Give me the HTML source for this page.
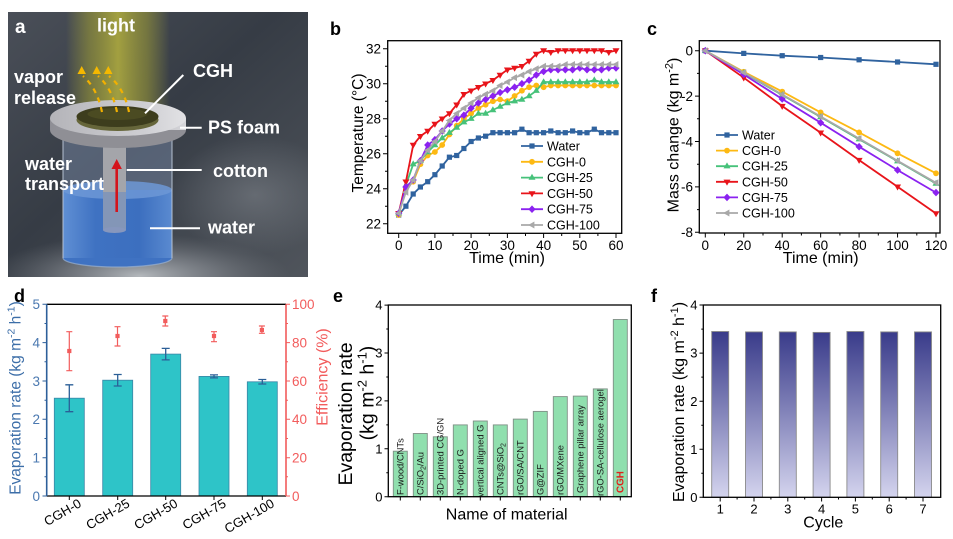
<!DOCTYPE html>
<html><head><meta charset="utf-8"><style>
html,body{margin:0;padding:0;background:#fff;}
svg{display:block;font-family:"Liberation Sans",Arial,sans-serif;}
</style></head><body>
<svg width="953" height="539" viewBox="0 0 953 539" xmlns="http://www.w3.org/2000/svg">
<defs>
<clipPath id="ca"><rect x="8" y="12" width="300" height="265"/></clipPath>
<linearGradient id="abg" x1="0" y1="0" x2="1" y2="1">
<stop offset="0" stop-color="#4a4f58"/><stop offset="0.45" stop-color="#363c45"/><stop offset="1" stop-color="#50555c"/>
</linearGradient>
<radialGradient id="aglow" cx="0.5" cy="0.5" r="0.5">
<stop offset="0" stop-color="#c0c4c8" stop-opacity="0.9"/><stop offset="0.5" stop-color="#9a9ea4" stop-opacity="0.5"/><stop offset="1" stop-color="#7a7e84" stop-opacity="0"/>
</radialGradient>
<radialGradient id="aglow2" cx="0.5" cy="0.5" r="0.5">
<stop offset="0" stop-color="#80858c" stop-opacity="0.55"/><stop offset="1" stop-color="#80858c" stop-opacity="0"/>
</radialGradient>
<linearGradient id="beam" x1="0" y1="0" x2="1" y2="0">
<stop offset="0" stop-color="#a8a638" stop-opacity="0"/><stop offset="0.22" stop-color="#a09e36" stop-opacity="0.55"/><stop offset="0.5" stop-color="#b4b03e" stop-opacity="0.85"/><stop offset="0.78" stop-color="#a09e36" stop-opacity="0.55"/><stop offset="1" stop-color="#a8a638" stop-opacity="0"/>
</linearGradient>
<linearGradient id="waterG" x1="0" y1="0" x2="1" y2="0">
<stop offset="0" stop-color="#5f8fd4"/><stop offset="0.3" stop-color="#3f72c2"/><stop offset="0.7" stop-color="#3c6fbf"/><stop offset="1" stop-color="#5a8ad0"/>
</linearGradient>
<linearGradient id="foamTop" x1="0" y1="0" x2="1" y2="0">
<stop offset="0" stop-color="#b4b4b9"/><stop offset="0.7" stop-color="#cfcfd3"/><stop offset="1" stop-color="#e2e2e5"/>
</linearGradient>
<linearGradient id="foamSide" x1="0" y1="0" x2="1" y2="0">
<stop offset="0" stop-color="#8e8e95"/><stop offset="0.6" stop-color="#b0b0b6"/><stop offset="1" stop-color="#d6d6da"/>
</linearGradient>
<linearGradient id="fbar" x1="0" y1="0" x2="0" y2="1">
<stop offset="0" stop-color="#393b8a"/><stop offset="0.5" stop-color="#8586bb"/><stop offset="1" stop-color="#d4d4ee"/>
</linearGradient>
<marker id="mSq" markerWidth="8" markerHeight="8" refX="4" refY="4" markerUnits="userSpaceOnUse"><rect x="1.4" y="1.4" width="5.2" height="5.2" fill="#30639f"/></marker>
<marker id="mCi" markerWidth="8" markerHeight="8" refX="4" refY="4" markerUnits="userSpaceOnUse"><circle cx="4" cy="4" r="2.9" fill="#fdb913"/></marker>
<marker id="mTu" markerWidth="8" markerHeight="8" refX="4" refY="4.4" markerUnits="userSpaceOnUse"><polygon points="4,0.6 7.5,6.6 0.5,6.6" fill="#46c27a"/></marker>
<marker id="mTd" markerWidth="8" markerHeight="8" refX="4" refY="3.6" markerUnits="userSpaceOnUse"><polygon points="0.5,1.4 7.5,1.4 4,7.4" fill="#e8141a"/></marker>
<marker id="mDi" markerWidth="8" markerHeight="8" refX="4" refY="4" markerUnits="userSpaceOnUse"><polygon points="4,0.2 7.6,4 4,7.8 0.4,4" fill="#8b22f0"/></marker>
<marker id="mTl" markerWidth="8" markerHeight="8" refX="4.4" refY="4" markerUnits="userSpaceOnUse"><polygon points="0.6,4 6.8,0.5 6.8,7.5" fill="#a8a8a8"/></marker>
</defs>

<rect width="953" height="539" fill="#fff"/>

<!-- ============ PANEL A ============ -->
<g clip-path="url(#ca)">
<rect x="8" y="12" width="300" height="265" fill="url(#abg)"/>
<ellipse cx="255" cy="195" rx="85" ry="60" fill="url(#aglow2)"/>
<ellipse cx="140" cy="276" rx="150" ry="42" fill="url(#aglow)"/>
<rect x="66" y="12" width="104" height="110" fill="url(#beam)"/>
<!-- beaker -->
<rect x="63" y="140" width="109" height="118" fill="#7c8fae" opacity="0.45"/>
<ellipse cx="117.5" cy="258" rx="54.5" ry="9" fill="#3f72c2"/>
<rect x="63" y="190" width="109" height="68" fill="url(#waterG)"/>
<ellipse cx="117.5" cy="190" rx="54.5" ry="9" fill="#6d98d6" opacity="0.85"/>
<!-- cotton -->
<rect x="103" y="140" width="23" height="90" fill="#a4a5aa"/>
<rect x="103" y="192" width="23" height="38" fill="#5a84c8" opacity="0.45"/>
<ellipse cx="114.5" cy="230" rx="11.5" ry="3" fill="#8797bd"/>
<line x1="63" y1="140" x2="63" y2="258" stroke="#b8c4d4" stroke-width="1.4" opacity="0.7"/>
<line x1="172" y1="140" x2="172" y2="258" stroke="#b8c4d4" stroke-width="1.4" opacity="0.7"/>
<path d="M63,258 A54.5,9 0 0 0 172,258" fill="none" stroke="#9ab0d0" stroke-width="1.2" opacity="0.7"/>
<!-- red arrow -->
<line x1="116.7" y1="212" x2="116.7" y2="167" stroke="#d4141c" stroke-width="2.6"/>
<polygon points="111.5,169 121.9,169 116.7,159" fill="#d4141c"/>
<!-- foam -->
<ellipse cx="118" cy="130" rx="68" ry="18" fill="#8f8f95"/>
<rect x="50" y="118" width="136" height="12" fill="url(#foamSide)"/>
<ellipse cx="118" cy="118" rx="68" ry="18" fill="url(#foamTop)"/>
<!-- CGH disk -->
<ellipse cx="117.5" cy="120" rx="41" ry="11" fill="#66663a"/>
<ellipse cx="117.5" cy="116.5" rx="41" ry="10.5" fill="#3d3d1d"/>
<ellipse cx="117.5" cy="114" rx="30" ry="6" fill="#5a5a28" opacity="0.5"/>
<!-- vapor arrows -->
<g fill="none" stroke="#f2b000" stroke-width="2.2" stroke-dasharray="5 5">
<path d="M102,112 Q97,88 83,76"/>
<path d="M117,112 Q112,88 98,76"/>
<path d="M129,112 Q124,88 109,76"/>
</g>
<g fill="#f5b800">
<polygon points="81.7,66 77.5,74 86,74"/>
<polygon points="96.7,66 92.5,74 101,74"/>
<polygon points="108.3,66 104,74 112.5,74"/>
</g>
<!-- pointer lines -->
<g stroke="#ffffff" stroke-width="2">
<line x1="183.3" y1="75" x2="145" y2="113.3"/>
<line x1="180" y1="127.7" x2="201.7" y2="127.7"/>
<line x1="126.7" y1="170" x2="201.7" y2="170"/>
<line x1="150" y1="228.3" x2="200" y2="228.3"/>
</g>
<g fill="#ffffff" font-weight="bold" font-size="18">
<text x="15" y="33" font-size="19">a</text>
<text x="97" y="31.5">light</text>
<text x="14" y="83">vapor</text>
<text x="14" y="104">release</text>
<text x="193" y="77">CGH</text>
<text x="208" y="133.5">PS foam</text>
<text x="25" y="170">water</text>
<text x="25" y="190">transport</text>
<text x="213" y="177">cotton</text>
<text x="208" y="233.5">water</text>
</g>
</g>

<!-- ============ PANEL B ============ -->
<text x="330" y="35" font-size="18" font-weight="bold">b</text>
<rect x="387.7" y="40.7" width="234" height="192.6" fill="none" stroke="#000" stroke-width="1.3"/>
<path stroke="#000" stroke-width="1" fill="none" d="
M383,223.7H387.7 M383,188.7H387.7 M383,153.7H387.7 M383,118.7H387.7 M383,83.7H387.7 M383,48.7H387.7
M385,206.2H387.7 M385,171.2H387.7 M385,136.2H387.7 M385,101.2H387.7 M385,66.2H387.7
M398.7,233.3V238 M434.9,233.3V238 M471.1,233.3V238 M507.4,233.3V238 M543.6,233.3V238 M579.8,233.3V238 M616,233.3V238
M416.8,233.3V236 M453,233.3V236 M489.3,233.3V236 M525.5,233.3V236 M561.7,233.3V236 M597.9,233.3V236"/>
<g font-size="13.5" text-anchor="end">
<text x="381" y="228.5">22</text><text x="381" y="193.5">24</text><text x="381" y="158.5">26</text>
<text x="381" y="123.5">28</text><text x="381" y="88.5">30</text><text x="381" y="53.5">32</text>
</g>
<g font-size="13.5" text-anchor="middle">
<text x="398.7" y="250">0</text><text x="434.9" y="250">10</text><text x="471.1" y="250">20</text>
<text x="507.4" y="250">30</text><text x="543.6" y="250">40</text><text x="579.8" y="250">50</text><text x="616" y="250">60</text>
</g>
<text x="507" y="263" font-size="16" text-anchor="middle">Time (min)</text>
<text transform="translate(363,133) rotate(-90)" font-size="15.5" text-anchor="middle">Temperature (°C)</text>
<g fill="none" stroke-width="1.8">
<polyline stroke="#30639f" marker-start="url(#mSq)" marker-mid="url(#mSq)" marker-end="url(#mSq)" points="398.7,215 405.9,206.2 413.2,194 420.4,187 427.7,181.7 434.9,174.7 442.2,166 449.4,157.2 456.7,155.5 463.9,148.5 471.1,141.5 478.4,138 485.6,136.2 492.9,132.7 500.1,132.7 507.4,132.7 514.6,132.7 521.9,129.2 529.1,132.7 536.3,132.7 543.6,132.7 550.8,131 558.1,132.7 565.3,132.7 572.6,131 579.8,132.7 587,132.7 594.3,129.2 601.5,132.7 608.8,132.7 616,132.7"/>
<polyline stroke="#fdb913" marker-start="url(#mCi)" marker-mid="url(#mCi)" marker-end="url(#mCi)" points="398.7,215 405.9,188.7 413.2,181.7 420.4,164.2 427.7,155.5 434.9,152 442.2,145 449.4,134.5 456.7,125.7 463.9,118.7 471.1,113.5 478.4,108.2 485.6,104.7 492.9,101.2 500.1,99.5 507.4,101.2 514.6,96 521.9,90.7 529.1,87.2 536.3,85.5 543.6,87.2 550.8,85.5 558.1,85.5 565.3,85.5 572.6,85.5 579.8,85.5 587,85.5 594.3,85.5 601.5,85.5 608.8,85.5 616,85.5"/>
<polyline stroke="#46c27a" marker-start="url(#mTu)" marker-mid="url(#mTu)" marker-end="url(#mTu)" points="398.7,213.2 405.9,185.2 413.2,164.2 420.4,160.7 427.7,152 434.9,145 442.2,138 449.4,132.7 456.7,127.5 463.9,122.2 471.1,118.7 478.4,113.5 485.6,113.5 492.9,110 500.1,106.5 507.4,103 514.6,101.2 521.9,99.5 529.1,96 536.3,90.7 543.6,82 550.8,82 558.1,82 565.3,82 572.6,82 579.8,82 587,82 594.3,80.2 601.5,82 608.8,82 616,82"/>
<polyline stroke="#e8141a" marker-start="url(#mTd)" marker-mid="url(#mTd)" marker-end="url(#mTd)" points="398.7,213.2 405.9,181.7 413.2,145 420.4,136.2 427.7,131 434.9,124 442.2,118.7 449.4,113.5 456.7,104.7 463.9,94.2 471.1,90.7 478.4,87.2 485.6,83.7 492.9,80.2 500.1,75 507.4,69.7 514.6,68 521.9,66.2 529.1,61 536.3,54 543.6,50.5 550.8,52.2 558.1,50.5 565.3,50.5 572.6,50.5 579.8,50.5 587,50.5 594.3,50.5 601.5,50.5 608.8,52.2 616,50.5"/>
<polyline stroke="#8b22f0" marker-start="url(#mDi)" marker-mid="url(#mDi)" marker-end="url(#mDi)" points="398.7,213.2 405.9,187 413.2,180 420.4,160.7 427.7,145 434.9,139.7 442.2,131 449.4,124 456.7,118.7 463.9,115.2 471.1,108.2 478.4,103 485.6,99.5 492.9,96 500.1,92.5 507.4,89.8 514.6,87.2 521.9,83.7 529.1,80.2 536.3,75 543.6,71.5 550.8,69.7 558.1,69.7 565.3,69.7 572.6,69.7 579.8,68 587,69.7 594.3,69.7 601.5,69.7 608.8,68 616,68"/>
<polyline stroke="#a8a8a8" marker-start="url(#mTl)" marker-mid="url(#mTl)" marker-end="url(#mTl)" points="398.7,213.2 405.9,192.2 413.2,180 420.4,160.7 427.7,150.2 434.9,141.5 442.2,131 449.4,120.5 456.7,113.5 463.9,108.2 471.1,103 478.4,97.7 485.6,94.2 492.9,90.7 500.1,85.5 507.4,82 514.6,77.6 521.9,75 529.1,71.5 536.3,68.8 543.6,66.2 550.8,66.2 558.1,66.2 565.3,64.5 572.6,64.5 579.8,64.5 587,64.5 594.3,64.5 601.5,64.5 608.8,64.5 616,64.5"/>
</g>
<!-- legend b -->
<g fill="none" stroke-width="1.8">
<polyline stroke="#30639f" marker-mid="url(#mSq)" points="521,146 532,146 543,146"/>
<polyline stroke="#fdb913" marker-mid="url(#mCi)" points="521,161.8 532,161.8 543,161.8"/>
<polyline stroke="#46c27a" marker-mid="url(#mTu)" points="521,177.6 532,177.6 543,177.6"/>
<polyline stroke="#e8141a" marker-mid="url(#mTd)" points="521,193.4 532,193.4 543,193.4"/>
<polyline stroke="#8b22f0" marker-mid="url(#mDi)" points="521,209.2 532,209.2 543,209.2"/>
<polyline stroke="#a8a8a8" marker-mid="url(#mTl)" points="521,225 532,225 543,225"/>
</g>
<g font-size="12.5">
<text x="547" y="150.5">Water</text><text x="547" y="166.3">CGH-0</text><text x="547" y="182.1">CGH-25</text>
<text x="547" y="197.9">CGH-50</text><text x="547" y="213.7">CGH-75</text><text x="547" y="229.5">CGH-100</text>
</g>

<!-- ============ PANEL C ============ -->
<text x="647" y="35" font-size="18" font-weight="bold">c</text>
<rect x="699.3" y="40.7" width="240.7" height="192.3" fill="none" stroke="#000" stroke-width="1.3"/>
<path stroke="#000" stroke-width="1" fill="none" d="
M695,50.7H699.3 M695,96.1H699.3 M695,141.5H699.3 M695,186.9H699.3 M695,232.3H699.3
M697,73.4H699.3 M697,118.8H699.3 M697,164.2H699.3 M697,209.6H699.3
M705.3,233V237.5 M743.75,233V237.5 M782.2,233V237.5 M820.65,233V237.5 M859.1,233V237.5 M897.55,233V237.5 M936,233V237.5
M724.5,233V235.5 M763,233V235.5 M801.4,233V235.5 M839.9,233V235.5 M878.3,233V235.5 M916.8,233V235.5"/>
<g font-size="13.5" text-anchor="end">
<text x="693" y="55.5">0</text><text x="693" y="100.9">-2</text><text x="693" y="146.3">-4</text>
<text x="693" y="191.7">-6</text><text x="693" y="237.1">-8</text>
</g>
<g font-size="13.5" text-anchor="middle">
<text x="705.3" y="250">0</text><text x="743.75" y="250">20</text><text x="782.2" y="250">40</text>
<text x="820.65" y="250">60</text><text x="859.1" y="250">80</text><text x="897.55" y="250">100</text><text x="936" y="250">120</text>
</g>
<text x="820.7" y="263" font-size="16" text-anchor="middle">Time (min)</text>
<text transform="translate(678.3,135) rotate(-90)" font-size="16" text-anchor="middle">Mass change (kg m<tspan font-size="11" dy="-6">-2</tspan><tspan dy="6">)</tspan></text>
<g fill="none" stroke-width="1.8">
<polyline stroke="#30639f" marker-start="url(#mSq)" marker-mid="url(#mSq)" marker-end="url(#mSq)" points="705.3,50.7 743.75,53.4 782.2,55.7 820.65,57.5 859.1,59.8 897.55,62 936,64.3"/>
<polyline stroke="#fdb913" marker-start="url(#mCi)" marker-mid="url(#mCi)" marker-end="url(#mCi)" points="705.3,50.7 743.75,71.8 782.2,91.6 820.65,112.4 859.1,132.4 897.55,153.3 936,173.3"/>
<polyline stroke="#46c27a" marker-start="url(#mTu)" marker-mid="url(#mTu)" marker-end="url(#mTu)" points="705.3,50.7 743.75,73 782.2,95 820.65,117 859.1,139.2 897.55,161.2 936,183.5"/>
<polyline stroke="#e8141a" marker-start="url(#mTd)" marker-mid="url(#mTd)" marker-end="url(#mTd)" points="705.3,50.7 743.75,77.7 782.2,106.1 820.65,132.7 859.1,160.1 897.55,186.7 936,213.5"/>
<polyline stroke="#8b22f0" marker-start="url(#mDi)" marker-mid="url(#mDi)" marker-end="url(#mDi)" points="705.3,50.7 743.75,74.5 782.2,99 820.65,122.7 859.1,146.7 897.55,170.1 936,192.6"/>
<polyline stroke="#a8a8a8" marker-start="url(#mTl)" marker-mid="url(#mTl)" marker-end="url(#mTl)" points="705.3,50.7 743.75,72.5 782.2,94.5 820.65,116.5 859.1,138.5 897.55,160.8 936,182.8"/>
</g>
<g fill="none" stroke-width="1.8">
<polyline stroke="#30639f" marker-mid="url(#mSq)" points="716,135 727,135 738,135"/>
<polyline stroke="#fdb913" marker-mid="url(#mCi)" points="716,150.6 727,150.6 738,150.6"/>
<polyline stroke="#46c27a" marker-mid="url(#mTu)" points="716,166.2 727,166.2 738,166.2"/>
<polyline stroke="#e8141a" marker-mid="url(#mTd)" points="716,181.8 727,181.8 738,181.8"/>
<polyline stroke="#8b22f0" marker-mid="url(#mDi)" points="716,197.4 727,197.4 738,197.4"/>
<polyline stroke="#a8a8a8" marker-mid="url(#mTl)" points="716,213 727,213 738,213"/>
</g>
<g font-size="12.5">
<text x="742" y="139.5">Water</text><text x="742" y="155.1">CGH-0</text><text x="742" y="170.7">CGH-25</text>
<text x="742" y="186.3">CGH-50</text><text x="742" y="201.9">CGH-75</text><text x="742" y="217.5">CGH-100</text>
</g>

<!-- ============ PANEL D ============ -->
<text x="14" y="302" font-size="18" font-weight="bold">d</text>
<g fill="#2ec4c8" stroke="#3a86a6" stroke-width="0.8">
<rect x="54.3" y="398.2" width="30" height="97.8"/>
<rect x="102.7" y="380.2" width="30" height="115.8"/>
<rect x="150.7" y="354.1" width="30" height="141.9"/>
<rect x="199" y="376.4" width="30" height="119.6"/>
<rect x="247.3" y="381.8" width="30" height="114.2"/>
</g>
<path stroke="#2b5f97" stroke-width="1.3" fill="none" d="
M69.3,384.8V411.7 M65.3,384.8H73.3 M65.3,411.7H73.3
M117.7,374.5V386 M113.7,374.5H121.7 M113.7,386H121.7
M165.7,348.4V359.9 M161.7,348.4H169.7 M161.7,359.9H169.7
M214,374.9V377.9 M210,374.9H218 M210,377.9H218
M262.3,379.5V384 M258.3,379.5H266.3 M258.3,384H266.3"/>
<path stroke="#f25c5c" stroke-width="1.2" fill="none" d="
M69.3,331.7V370.7 M66.3,331.7H72.3 M66.3,370.7H72.3
M117.5,326.7V346 M114.5,326.7H120.5 M114.5,346H120.5
M165.3,316V326 M162.3,316H168.3 M162.3,326H168.3
M214,331.7V341.7 M211,331.7H217 M211,341.7H217
M261.9,326V333.3 M258.9,326H264.9 M258.9,333.3H264.9"/>
<g fill="#f25c5c">
<rect x="67.2" y="348.9" width="4.2" height="4.2"/>
<rect x="115.4" y="333.9" width="4.2" height="4.2"/>
<rect x="163.2" y="318.9" width="4.2" height="4.2"/>
<rect x="211.9" y="333.9" width="4.2" height="4.2"/>
<rect x="259.8" y="327.9" width="4.2" height="4.2"/>
</g>
<line x1="46.7" y1="304.3" x2="286" y2="304.3" stroke="#000" stroke-width="1.3"/>
<line x1="46.7" y1="496" x2="286" y2="496" stroke="#000" stroke-width="1.3"/>
<line x1="46.7" y1="304.3" x2="46.7" y2="496" stroke="#2d5f9a" stroke-width="1.6"/>
<line x1="286" y1="304.3" x2="286" y2="496" stroke="#f25c5c" stroke-width="1.6"/>
<path stroke="#2d5f9a" stroke-width="1" d="
M42.5,496H46.7 M42.5,457.7H46.7 M42.5,419.3H46.7 M42.5,381H46.7 M42.5,342.6H46.7 M42.5,304.3H46.7
M44.5,476.8H46.7 M44.5,438.5H46.7 M44.5,400.2H46.7 M44.5,361.8H46.7 M44.5,323.5H46.7"/>
<path stroke="#f25c5c" stroke-width="1" d="
M286,496H290 M286,457.7H290 M286,419.3H290 M286,381H290 M286,342.6H290 M286,304.3H290
M286,476.8H288 M286,438.5H288 M286,400.2H288 M286,361.8H288 M286,323.5H288"/>
<path stroke="#000" stroke-width="1" d="M69.3,496V500 M117.7,496V500 M165.7,496V500 M214,496V500 M262.3,496V500"/>
<g font-size="13.5" text-anchor="end" fill="#4a78b0">
<text x="40" y="500.8">0</text><text x="40" y="462.5">1</text><text x="40" y="424.1">2</text>
<text x="40" y="385.8">3</text><text x="40" y="347.4">4</text><text x="40" y="309.1">5</text>
</g>
<g font-size="13.5" fill="#f25c5c">
<text x="292" y="500.8">0</text><text x="292" y="462.5">20</text><text x="292" y="424.1">40</text>
<text x="292" y="385.8">60</text><text x="292" y="347.4">80</text><text x="292" y="309.1">100</text>
</g>
<g font-size="13" text-anchor="end">
<text transform="translate(82.3,506) rotate(-30)">CGH-0</text>
<text transform="translate(130.7,506) rotate(-30)">CGH-25</text>
<text transform="translate(178.7,506) rotate(-30)">CGH-50</text>
<text transform="translate(227,506) rotate(-30)">CGH-75</text>
<text transform="translate(275.3,506) rotate(-30)">CGH-100</text>
</g>
<text transform="translate(20.5,398) rotate(-90)" font-size="15.5" text-anchor="middle" fill="#3c6ea8">Evaporation rate (kg m<tspan font-size="10.5" dy="-6">-2</tspan><tspan dy="6"> h</tspan><tspan font-size="10.5" dy="-6">-1</tspan><tspan dy="6">)</tspan></text>
<text transform="translate(327.3,377) rotate(-90)" font-size="16" text-anchor="middle" fill="#f25c5c">Efficiency (%)</text>

<!-- ============ PANEL E ============ -->
<text x="333" y="302" font-size="18" font-weight="bold">e</text>
<g fill="#90dfae" stroke="#7f8f86" stroke-width="0.9">
<rect x="393.3" y="451.2" width="14" height="45.5"/>
<rect x="413.3" y="433.5" width="14" height="63.2"/>
<rect x="433.3" y="436.8" width="14" height="59.9"/>
<rect x="453.3" y="424.9" width="14" height="71.8"/>
<rect x="473.3" y="421" width="14" height="75.7"/>
<rect x="493.3" y="424.9" width="14" height="71.8"/>
<rect x="513.3" y="419.1" width="14" height="77.6"/>
<rect x="533.3" y="411.4" width="14" height="85.3"/>
<rect x="553.3" y="396.6" width="14" height="100.1"/>
<rect x="573.3" y="396.1" width="14" height="100.6"/>
<rect x="593.3" y="388.9" width="14" height="107.8"/>
<rect x="613.3" y="319.5" width="14" height="177.2"/>
</g>
<g font-size="9.4" fill="#1a1a1a">
<text transform="translate(403.7,495) rotate(-90)">F-wood/CNTs</text>
<text transform="translate(423.7,495) rotate(-90)">C/SiO<tspan font-size="7" dy="2">2</tspan><tspan dy="-2">/Au</tspan></text>
<text transform="translate(443.7,495) rotate(-90)">3D-printed CG/GN</text>
<text transform="translate(463.7,495) rotate(-90)">N-doped G</text>
<text transform="translate(483.7,497) rotate(-90)">vertical aligned G</text>
<text transform="translate(503.7,495) rotate(-90)">CNTs@SiO<tspan font-size="7" dy="2">2</tspan></text>
<text transform="translate(523.7,495) rotate(-90)">rGO/SA/CNT</text>
<text transform="translate(543.7,495) rotate(-90)">G@ZIF</text>
<text transform="translate(563.7,495) rotate(-90)">rGO/MXene</text>
<text transform="translate(583.7,493) rotate(-90)">Graphene pillar array</text>
<text transform="translate(603.7,496) rotate(-90)">rGO-SA-cellulose aerogel</text>
<text transform="translate(623.7,493) rotate(-90)" fill="#e0201a" font-weight="bold" font-size="9.8">CGH</text>
</g>
<rect x="388.3" y="305" width="243" height="191.7" fill="none" stroke="#000" stroke-width="1.3"/>
<path stroke="#000" stroke-width="1" fill="none" d="
M384.5,496.7H388.3 M384.5,448.8H388.3 M384.5,400.9H388.3 M384.5,353H388.3 M384.5,305.1H388.3
M386.3,472.75H388.3 M386.3,424.85H388.3 M386.3,376.95H388.3 M386.3,329.05H388.3
M400.3,496.7V500.5 M420.3,496.7V500.5 M440.3,496.7V500.5 M460.3,496.7V500.5 M480.3,496.7V500.5 M500.3,496.7V500.5
M520.3,496.7V500.5 M540.3,496.7V500.5 M560.3,496.7V500.5 M580.3,496.7V500.5 M600.3,496.7V500.5 M620.3,496.7V500.5"/>
<g font-size="13" text-anchor="end">
<text x="382.5" y="501.3">0</text><text x="382.5" y="453.4">1</text><text x="382.5" y="405.5">2</text>
<text x="382.5" y="357.6">3</text><text x="382.5" y="309.7">4</text>
</g>
<text x="506.7" y="519.5" font-size="16" text-anchor="middle">Name of material</text>
<text transform="translate(351.8,414) rotate(-90)" font-size="19.5" text-anchor="middle">Evaporation rate</text>
<text transform="translate(373.5,393) rotate(-90)" font-size="19.5" text-anchor="middle">(kg m<tspan font-size="13" dy="-7">-2</tspan><tspan dy="7"> h</tspan><tspan font-size="13" dy="-7">-1</tspan><tspan dy="7">)</tspan></text>

<!-- ============ PANEL F ============ -->
<text x="651" y="302" font-size="18" font-weight="bold">f</text>
<g fill="url(#fbar)" stroke="#8a8a8a" stroke-width="0.9">
<rect x="711.7" y="331.5" width="17" height="165.8"/>
<rect x="745.5" y="331.9" width="17" height="165.4"/>
<rect x="779.3" y="331.9" width="17" height="165.4"/>
<rect x="813.1" y="332.4" width="17" height="164.9"/>
<rect x="846.9" y="331.5" width="17" height="165.8"/>
<rect x="880.7" y="331.9" width="17" height="165.4"/>
<rect x="914.5" y="331.9" width="17" height="165.4"/>
</g>
<rect x="703.3" y="305" width="237.4" height="192.3" fill="none" stroke="#000" stroke-width="1.3"/>
<path stroke="#000" stroke-width="1" fill="none" d="
M699.5,497.3H703.3 M699.5,449.2H703.3 M699.5,401.2H703.3 M699.5,353.1H703.3 M699.5,305H703.3
M701.3,473.3H703.3 M701.3,425.2H703.3 M701.3,377.1H703.3 M701.3,329.1H703.3
M720.2,497.3V501.5 M754,497.3V501.5 M787.8,497.3V501.5 M821.6,497.3V501.5 M855.4,497.3V501.5 M889.2,497.3V501.5 M923,497.3V501.5
M737.1,497.3V499.5 M770.9,497.3V499.5 M804.7,497.3V499.5 M838.5,497.3V499.5 M872.3,497.3V499.5 M906.1,497.3V499.5"/>
<g font-size="13" text-anchor="end">
<text x="697.5" y="501.9">0</text><text x="697.5" y="453.8">1</text><text x="697.5" y="405.8">2</text>
<text x="697.5" y="357.7">3</text><text x="697.5" y="309.6">4</text>
</g>
<g font-size="13" text-anchor="middle">
<text x="720.2" y="513.5">1</text><text x="754" y="513.5">2</text><text x="787.8" y="513.5">3</text>
<text x="821.6" y="513.5">4</text><text x="855.4" y="513.5">5</text><text x="889.2" y="513.5">6</text><text x="923" y="513.5">7</text>
</g>
<text x="823.3" y="527.5" font-size="16" text-anchor="middle">Cycle</text>
<text transform="translate(683.9,402) rotate(-90)" font-size="16" text-anchor="middle">Evaporation rate (kg m<tspan font-size="11" dy="-6">-2</tspan><tspan dy="6"> h</tspan><tspan font-size="11" dy="-6">-1</tspan><tspan dy="6">)</tspan></text>
</svg>
</body></html>
